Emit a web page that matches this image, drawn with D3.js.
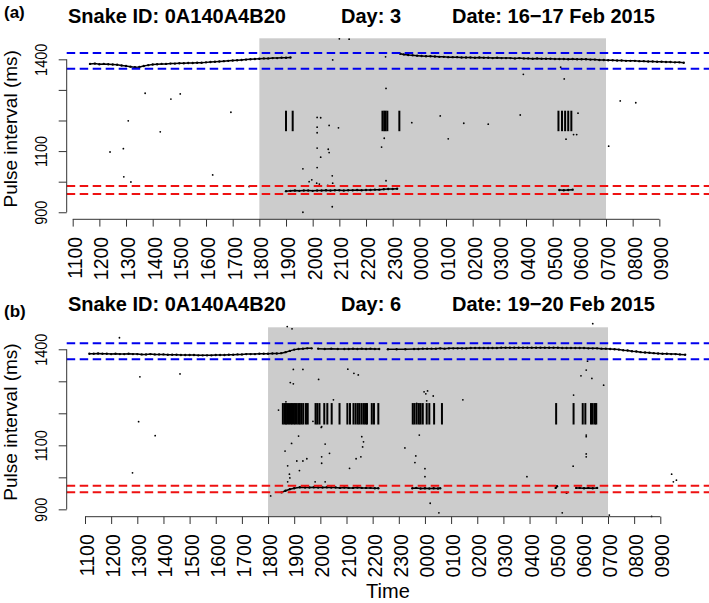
<!DOCTYPE html>
<html><head><meta charset="utf-8">
<script src="https://cdn.jsdelivr.net/npm/d3@7"></script>
<style>body{margin:0;background:#fff}svg{display:block}text{font-family:"Liberation Sans",Arial,Helvetica,sans-serif;fill:#000}</style>
</head><body><svg id="c" width="709" height="603"></svg>
<script>
// ---------- DATA ----------
const xTickLabels = ["1100","1200","1300","1400","1500","1600","1700","1800","1900","2000","2100","2200","2300","0000","0100","0200","0300","0400","0500","0600","0700","0800","0900"];
const yTickValues = [900,1000,1100,1200,1300,1400];
const yTickLabels = ["900","","1100","","","1400"];
const yDomain = [877, 1468.7];
const nightStart = "18:00", nightEnd = "07:00";
const barLow = 1165, barHigh = 1232;

// Panel (a)
const titleA = ["Snake ID: 0A140A4B20", "Day: 3", "Date: 16\u221217 Feb 2015"];
const blueA = [1421, 1369];
const redA = [986, 960];
const traceA1 = [["11:39",1385],["11:50",1386],["12:00",1384],["12:10",1385],["12:20",1384],["12:30",1383],["12:40",1382],["12:50",1380],["13:00",1378],["13:10",1376],["13:20",1374],["13:30",1375],["13:40",1378],["13:50",1381],["14:00",1383],["14:10",1384],["14:20",1385],["14:30",1385],["14:40",1386],["14:50",1386],["15:00",1387],["15:10",1387],["15:20",1388],["15:30",1388],["15:40",1389],["15:50",1389],["16:00",1390],["16:10",1391],["16:20",1392],["16:30",1393],["16:40",1394],["16:50",1395],["17:00",1396],["17:10",1397],["17:20",1398],["17:30",1399],["17:40",1400],["17:50",1401],["18:00",1402],["18:10",1403],["18:20",1403],["18:30",1404],["18:40",1404],["18:50",1405],["19:00",1405],["19:10",1406]];
const traceA2 = [["23:17",1418],["23:25",1416],["23:35",1414],["23:45",1413],["23:55",1412],["00:05",1411],["00:15",1410],["00:25",1410],["00:35",1409],["00:45",1408],["00:55",1408],["01:05",1407],["01:15",1407],["01:25",1407],["01:35",1406],["01:45",1406],["01:55",1406],["02:05",1405],["02:15",1406],["02:25",1405],["02:35",1405],["02:45",1404],["02:55",1405],["03:05",1404],["03:15",1404],["03:25",1404],["03:35",1403],["03:45",1404],["03:55",1403],["04:05",1403],["04:15",1402],["04:25",1403],["04:35",1402],["04:45",1402],["04:55",1402],["05:05",1401],["05:15",1401],["05:25",1401],["05:35",1400],["05:45",1401],["05:55",1400],["06:05",1400],["06:15",1400],["06:25",1399],["06:35",1399],["06:45",1398],["06:55",1398],["07:05",1397],["07:15",1397],["07:25",1396],["07:35",1396],["07:45",1395],["07:55",1395],["08:05",1395],["08:15",1394],["08:25",1394],["08:35",1393],["08:45",1393],["08:55",1392],["09:05",1392],["09:15",1391],["09:25",1391],["09:35",1390],["09:45",1390],["09:55",1389]];
const lowA = [["19:00",969],["19:10",970],["19:20",971],["19:30",970],["19:40",971],["19:50",971],["20:00",970],["20:10",971],["20:20",971],["20:30",972],["20:40",971],["20:50",972],["21:00",972],["21:10",971],["21:20",972],["21:30",972],["21:40",973],["21:50",972],["22:00",973],["22:10",973],["22:20",974],["22:30",974],["22:40",975],["22:50",976],["23:00",976],["23:10",977],["23:20",null],["05:15",973],["05:25",972],["05:35",973],["05:45",974]];
const outA = [["13:43",1289],["14:41",1270],["15:02",1287],["13:05",1199],["14:17",1163],["16:56",1227],["12:24",1097],["12:54",1108],["12:55",1016],["13:11",999],["16:15",1022],["17:37",984],["21:00",1467],["21:22",1466],["20:45",1398],["20:10",1210],["20:18",1209],["20:10",1178],["20:37",1184],["20:58",1176],["20:10",1160],["20:10",1110],["20:35",1106],["20:37",1095],["20:18",1080],["19:38",1042],["20:10",1046],["20:44",1019],["19:52",1000],["19:58",1006],["20:09",995],["20:15",992],["20:34",988],["20:45",995],["19:38",900],["20:44",918],["22:45",1305],["23:43",1193],["00:47",1215],["01:40",1191],["02:35",1188],["03:47",1218],["03:54",1351],["05:18",1374],["05:26",1336],["05:57",1224],["22:41",1142],["22:35",1113],["01:05",1140],["05:30",1139],["05:47",1154],["05:54",1154],["22:45",1003],["07:32",1264],["08:07",1258],["07:06",1116],["22:44",1408]];
const barsA = ["19:00","19:15","22:37","22:41","22:44","22:48","23:15","05:13","05:21","05:28","05:35","05:42"];

// Panel (b)
const titleB = ["Snake ID: 0A140A4B20", "Day: 6", "Date: 19\u221220 Feb 2015"];
const blueB = [1419, 1369];
const redB = [974, 953];
const traceB = [["11:10",1386],["11:20",1386],["11:30",1387],["11:40",1386],["11:50",1386],["12:00",1385],["12:10",1386],["12:20",1385],["12:30",1385],["12:40",1386],["12:50",1385],["13:00",1385],["13:10",1384],["13:20",1384],["13:30",1385],["13:40",1384],["13:50",1384],["14:00",1384],["14:10",1383],["14:20",1383],["14:30",1383],["14:40",1382],["14:50",1382],["15:00",1382],["15:10",1382],["15:20",1381],["15:30",1381],["15:40",1381],["15:50",1381],["16:00",1382],["16:10",1382],["16:20",1382],["16:30",1383],["16:40",1383],["16:50",1384],["17:00",1384],["17:10",1385],["17:20",1385],["17:30",1385],["17:40",1386],["17:50",1386],["18:00",1386],["18:10",1387],["18:20",1387],["18:30",1388],["18:40",1391],["18:50",1395],["19:00",1399],["19:10",1401],["19:20",1402],["19:30",1403],["19:40",1403],["19:45",null],["19:55",1402],["20:10",1401],["20:25",1402],["20:40",1401],["20:55",1401],["21:05",1401],["21:15",1402],["21:25",1401],["21:35",1402],["21:45",1401],["21:55",1402],["22:05",1401],["22:15",1401],["22:20",null],["22:35",1400],["22:55",1400],["23:15",1400],["23:35",1401],["23:45",1401],["23:55",1402],["00:05",1402],["00:15",1402],["00:25",1402],["00:35",1403],["00:45",1402],["00:55",1403],["01:05",1403],["01:15",1403],["01:25",1403],["01:35",1403],["01:45",1404],["01:55",1404],["02:05",1404],["02:15",1404],["02:25",1404],["02:35",1404],["02:45",1404],["02:55",1405],["03:05",1405],["03:15",1405],["03:25",1405],["03:35",1405],["03:45",1405],["03:55",1405],["04:05",1405],["04:15",1405],["04:25",1405],["04:35",1405],["04:45",1405],["04:55",1405],["05:05",1405],["05:15",1404],["05:25",1404],["05:35",1404],["05:45",1404],["05:55",1404],["06:05",1404],["06:15",1403],["06:25",1403],["06:35",1403],["06:45",1402],["06:55",1402],["07:05",1401],["07:15",1400],["07:25",1399],["07:35",1397],["07:45",1396],["07:55",1394],["08:05",1393],["08:15",1391],["08:25",1390],["08:35",1389],["08:45",1388],["08:55",1387],["09:05",1386],["09:15",1386],["09:25",1385],["09:35",1385],["09:45",1384],["09:57",1383]];
const lowB = [["18:31",953],["18:40",958],["18:50",963],["19:00",966],["19:13",969],["19:25",968],["19:35",968],["19:45",969],["19:55",968],["20:05",968],["20:15",969],["20:25",968],["20:35",968],["20:45",967],["20:55",968],["21:05",967],["21:15",967],["21:25",968],["21:35",967],["21:45",967],["21:55",967],["22:05",966],["22:13",966],["22:20",null],["23:31",966],["23:40",967],["23:50",965],["00:00",966],["00:10",965],["00:20",966],["00:30",965],["00:35",966],["00:40",null],["05:00",967],["05:03",972],["05:10",null],["05:25",952],["05:30",null],["05:47",967],["05:55",967],["06:05",966],["06:15",967],["06:25",966],["06:35",967]];
const outB = [["12:19",1436],["13:06",1314],["14:38",1323],["13:03",1174],["13:41",1130],["12:49",1014],["18:44",1471],["18:55",1464],["18:58",1337],["19:20",1337],["18:51",1296],["18:58",1292],["19:56",1306],["20:30",1242],["18:41",1236],["18:24",1210],["20:03",1158],["19:10",1129],["18:54",1106],["20:11",1104],["18:39",1082],["20:21",1075],["20:03",1064],["19:06",1051],["19:20",1051],["19:29",1058],["18:45",1036],["19:12",1021],["18:49",1010],["18:50",998],["20:03",1044],["18:45",986],["19:48",986],["20:11",986],["18:06",942],["21:07",1028],["21:03",1338],["21:17",1325],["21:27",1320],["19:43",1175],["20:02",1156],["21:35",1127],["21:39",1111],["21:37",1095],["21:33",1064],["21:22",1058],["23:14",1092],["23:47",1132],["23:39",1067],["23:37",1046],["00:00",1027],["00:00",1002],["00:12",919],["00:32",889],["23:58",1267],["00:06",1270],["00:19",1254],["00:02",1261],["00:04",1239],["23:41",1231],["01:27",1242],["03:54",1002],["05:41",1257],["05:58",1317],["06:10",1335],["06:23",1309],["06:50",1288],["06:13",1363],["06:25",1480],["06:10",1132],["06:10",1127],["06:10",1073],["06:10",1064],["05:40",1035],["05:15",889],["07:03",882],["08:40",878],["09:26",1010],["09:37",991],["09:30",986]];
const barsB = ["18:34","18:38","18:41","18:44","18:48","18:52","18:55","18:59","19:02","19:06","19:10","19:13","19:17","19:21","19:27","19:31","19:49","19:53","19:58","20:09","20:16","20:26","20:44","21:02","21:08","21:16","21:21","21:26","21:30","21:35","21:40","21:44","21:47","21:58","22:03","22:13","23:32","23:36","23:41","23:46","23:50","23:55","00:04","00:10","00:21","00:39","05:01","05:41","06:02","06:08","06:21","06:25","06:30","06:33"];

// ---------- DRAWING ----------
function hrs(t){ const p=t.split(":").map(Number); let v=p[0]+p[1]/60-11; if(v<0) v+=24; return v; }
const svg = d3.select("#c");
const L = 66.7, R = 709.2;
const panels = [
  {tag:"(a)", title:titleA, top:38.3, bottom:219.3, xDom:[-0.225,23.87], blue:blueA, red:redA, traces:[traceA1,traceA2,lowA], out:outA, bars:barsA, titleY:23, tagY:18},
  {tag:"(b)", title:titleB, top:327.3, bottom:516.7, xDom:[-0.70,23.87], blue:blueB, red:redB, traces:[traceB,lowB], out:outB, bars:barsB, titleY:311, tagY:317}
];
const titleX = [68, 341, 452];

panels.forEach(p => {
  const x = d3.scaleLinear().domain(p.xDom).range([L, R]);
  const y = d3.scaleLinear().domain(yDomain).range([p.bottom, p.top]);
  const g = svg.append("g");

  g.append("rect")
    .attr("x", x(hrs(nightStart))).attr("width", x(hrs(nightEnd)) - x(hrs(nightStart)))
    .attr("y", p.top).attr("height", p.bottom - p.top).attr("fill", "#cccccc");

  g.selectAll("line.bar").data(p.bars).join("line").attr("class","bar")
    .attr("x1", d => x(hrs(d))).attr("x2", d => x(hrs(d)))
    .attr("y1", y(barLow)).attr("y2", y(barHigh))
    .attr("stroke", "#000").attr("stroke-width", 2);

  const line = d3.line().defined(d => d[1] != null).x(d => x(hrs(d[0]))).y(d => y(d[1]));
  p.traces.forEach(tr => {
    g.append("path").datum(tr).attr("d", line).attr("fill","none").attr("stroke","#000").attr("stroke-width",1.5);
    g.selectAll(null).data(tr.filter(d => d[1] != null)).join("circle")
      .attr("cx", d => x(hrs(d[0]))).attr("cy", d => y(d[1])).attr("r", 1.2).attr("fill","#000");
  });

  g.selectAll(null).data(p.out).join("circle")
    .attr("cx", d => x(hrs(d[0]))).attr("cy", d => y(d[1])).attr("r", 0.9).attr("fill","#000");

  p.blue.forEach(v => g.append("line").attr("x1",L).attr("x2",R).attr("y1",y(v)).attr("y2",y(v))
    .attr("stroke","#0000ee").attr("stroke-width",2).attr("stroke-dasharray","8.5,4.5"));
  p.red.forEach(v => g.append("line").attr("x1",L).attr("x2",R).attr("y1",y(v)).attr("y2",y(v))
    .attr("stroke","#ee1111").attr("stroke-width",2).attr("stroke-dasharray","8.5,4.5"));

  const xa = g.append("g").attr("transform", `translate(0,${p.bottom})`)
    .call(d3.axisBottom(x).tickValues(d3.range(xTickLabels.length)).tickFormat((d,i)=>xTickLabels[i]).tickSize(7.3).tickSizeOuter(0));
  xa.select(".domain").remove();
  xa.append("line").attr("x1",x(0)).attr("x2",x(xTickLabels.length-1)).attr("stroke","#333");
  xa.selectAll(".tick line").attr("stroke","#333");
  xa.selectAll(".tick text").attr("x",0).attr("y",0).attr("dy",null)
    .attr("transform","translate(8.5,17.5) rotate(-90)").attr("text-anchor","end")
    .style("font-size","19.5px").style("font-family","Liberation Sans, Arial, sans-serif").attr("fill","#000");

  const ya = g.append("g").attr("transform", `translate(${L},0)`)
    .call(d3.axisLeft(y).tickValues(yTickValues).tickFormat((d,i)=>yTickLabels[i]).tickSize(8).tickSizeOuter(0));
  ya.select(".domain").remove();
  ya.append("line").attr("y1",y(900)).attr("y2",y(1400)).attr("stroke","#333");
  ya.selectAll(".tick line").attr("stroke","#333");
  ya.selectAll(".tick text").attr("x",0).attr("y",0).attr("dy",null)
    .attr("transform","translate(-20,0) rotate(-90) scale(0.86,1)").attr("text-anchor","middle")
    .style("font-size","16.8px").style("font-family","Liberation Sans, Arial, sans-serif").attr("fill","#000");

  g.append("text").attr("transform",`translate(16.7,${(p.top+p.bottom)/2}) rotate(-90)`)
    .attr("text-anchor","middle").style("font-size","19px").text("Pulse interval (ms)");

  p.title.forEach((t,i) => g.append("text").attr("x",titleX[i]).attr("y",p.titleY)
    .style("font-size","20px").style("font-weight","bold").text(t));
  g.append("text").attr("x",4).attr("y",p.tagY).style("font-size","17px").style("font-weight","bold").text(p.tag);
});

svg.append("text").attr("x",(L+R)/2).attr("y",598).attr("text-anchor","middle").style("font-size","20px").text("Time");
</script></body></html>
